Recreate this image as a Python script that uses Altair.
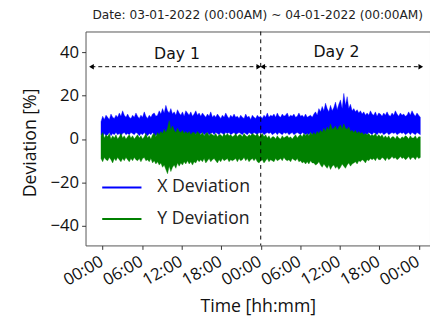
import altair as alt
import pandas as pd

# sample times in hours since 03-01-2022 00:00 (193 samples)
hours = [-0.25 + i * 0.2525 for i in range(193)]

# X deviation band: upper / lower envelope (4 samples per hour)
x_hi = [8, 10.5, 9, 11,  10, 9, 11.5, 10,  9.5, 11, 10, 12,  10.5, 13, 11, 10,
        11.5, 10, 9.5, 11,  10, 12, 10.5, 9.5,  11, 10, 12.5, 10.5,  9.5, 11, 10, 11.5,
        12, 10.5, 11, 13,  11.5, 14, 12, 15.5,  13, 12, 14, 11.5,  12.5, 11, 13.5, 12,
        11, 12.5, 10.5, 13,  12, 11, 12.5, 10.5,  11.5, 13, 11, 12,  10.5, 12, 11, 10,
        11.5, 10.5, 12.5, 10,  11, 10, 11.5, 10.5,  9.5, 11, 10, 12,  10.5, 9.5, 11, 10,
        11.5, 10, 10.5, 9.5,  11, 10, 9.5, 11.5,  10, 10.5, 9, 11,  10, 9.5, 11, 10,
        10.5, 9.5, 11, 10,  12, 10, 11, 10.5,  11.5, 10, 12, 10.5,  10, 11.5, 10.5, 11,
        12, 10, 11, 10.5,  11.5, 10, 10.5, 12,  10.5, 11, 10, 11.5,  10, 10.5, 11, 10,
        11.5, 12.5, 11, 14,  12.5, 15, 13, 16.5,  14, 12.5, 15.5, 13,  14.5, 17, 13.5, 16,
        18, 14, 21, 15.5,  19.5, 14, 16, 13,  14, 12.5, 13.5, 12,  13, 11.5, 12.5, 11,
        12, 11, 13, 11.5,  11, 12.5, 10.5, 12,  11.5, 10.5, 12, 11,  12.5, 11, 10.5, 12,
        11, 13, 11.5, 10.5,  12, 11, 11.5, 10.5,  11, 12.5, 11, 13,  11.5, 10.5, 12, 11,
        10]
x_lo = [2, 1, 2.5, 1.5,  2, 3, 1.5, 2.5,  2, 3, 2, 2.5,  1.5, 2.5, 3, 2,
        2.5, 2, 3, 2.5,  2, 3, 2.5, 1.5,  2.5, 2, 3, 2,  1.5, 2.5, 2, 3,
        2, 1.5, 2.5, 1,  1.5, 0.5, 1, 0,  0.5, 1, 0, 1.5,  1, 2, 1.5, 1,
        2, 1.5, 2.5, 1.5,  2, 2.5, 1.5, 2,  2.5, 2, 3, 2,  2.5, 3, 2, 2.5,
        3, 2, 2.5, 3,  2, 3, 2.5, 2,  3, 2.5, 2, 3,  2.5, 3, 2, 2.5,
        3, 2, 2.5, 3,  2.5, 2, 3, 2.5,  2, 3, 2.5, 2,  3, 2.5, 2, 3,
        2.5, 3, 2, 2.5,  3, 2.5, 3, 2,  2.5, 3, 2, 3,  2.5, 2, 3, 2.5,
        3, 2, 2.5, 3,  2, 2.5, 3, 2.5,  2, 3, 2.5, 2,  2.5, 2, 3, 2,
        2, 1.5, 2.5, 1.5,  1, 2, 1.5, 1,  1.5, 0.5, 1, 1.5,  0.5, 1, 0, 1,
        0.5, 0, 1, 0.5,  1, 0.5, 1.5, 1,  1.5, 2, 1, 2,  2, 2.5, 1.5, 2.5,
        2, 3, 2.5, 2,  3, 2.5, 2, 3,  2.5, 3, 2, 2.5,  3, 2, 2.5, 3,
        2.5, 3, 2, 2.5,  3, 2.5, 3, 2,  2.5, 3, 2, 3,  2.5, 2, 3, 2.5,
        2]
# Y deviation band: upper / lower envelope
y_hi = [1.5, 3, 0.5, 2,  1, 2.5, 0, 1.5,  0.5, 2, 0, 1,  2.5, 0.5, 1.5, 0,
        1, 2, 0.5, 1.5,  0, 1, 2, 0.5,  1.5, 0, 1, 2.5,  0.5, 1.5, 0, 2,
        2.5, 1, 3, 2,  3.5, 2.5, 4.5, 3,  5, 8.5, 4, 6,  4, 3, 5, 3.5,
        3, 4, 2.5, 3.5,  2.5, 3.5, 2, 3,  3, 2, 3.5, 2.5,  2, 3, 1.5, 2.5,
        3, 1.5, 2.5, 2,  1.5, 2.5, 1, 2,  2, 1, 2.5, 1.5,  2.5, 1.5, 2, 1,
        1.5, 2.5, 1, 2,  2, 1, 2.5, 1.5,  1, 2, 1.5, 2.5,  2, 1.5, 2.5, 1,
        1.5, 2.5, 1, 2,  0.5, 1.5, 0, 1,  1, 0, 1.5, 0.5,  0, 1.5, 0.5, 1,
        1.5, 0.5, 1, 0,  1, 2, 0.5, 1.5,  2, 1, 2.5, 1.5,  2.5, 1.5, 3, 2,
        3, 2, 3.5, 2.5,  4, 3, 5, 3.5,  5.5, 4, 7, 4.5,  5, 6, 4, 5.5,
        6.5, 4.5, 7, 5,  4.5, 5.5, 3.5, 4,  3, 4, 2.5, 3.5,  2.5, 3, 2, 2.5,
        2, 2.5, 1.5, 2,  1.5, 2.5, 1, 2,  1, 2, 0.5, 1.5,  0.5, 1.5, 0, 1,
        1, 0, 1.5, 0.5,  0, 1, 0.5, 1.5,  1, 0, 1.5, 0.5,  0.5, 1.5, 0, 1,
        1]
y_lo = [-9, -10.5, -8.5, -9.5,  -10, -8.5, -9.5, -11,  -9, -10, -8.5, -9.5,  -10.5, -9, -10, -8.5,
        -9.5, -10.5, -9, -10,  -8.5, -9.5, -10, -9,  -10.5, -9, -8.5, -10,  -9.5, -10.5, -9, -11,
        -10, -11.5, -10.5, -12,  -11, -13, -12, -14,  -16, -12.5, -15, -13,  -12, -13.5, -11, -12.5,
        -11, -12, -10.5, -11.5,  -10, -11.5, -10.5, -12,  -10.5, -11, -9.5, -10.5,  -9.5, -10.5, -9, -11,
        -10, -9, -10.5, -9.5,  -9, -10, -11, -9.5,  -10.5, -9, -10, -9.5,  -9, -10.5, -9.5, -10,
        -9.5, -9, -10.5, -9,  -10, -9.5, -8.5, -10,  -9, -10.5, -9.5, -9,  -10, -9, -10.5, -11,
        -10, -9.5, -11, -10,  -9, -10.5, -9.5, -10,  -10.5, -9, -10, -9.5,  -9, -10, -8.5, -9.5,
        -10, -9.5, -10.5, -9,  -9.5, -10, -9, -10.5,  -10, -11, -10.5, -11.5,  -10.5, -11.5, -10, -11,
        -11, -12, -11.5, -10.5,  -12, -13, -11.5, -12.5,  -13.5, -12, -14, -12.5,  -12, -13.5, -12.5, -14,
        -13, -11.5, -12.5, -13.5,  -12, -11, -12.5, -11.5,  -11, -10.5, -11.5, -10,  -10.5, -9.5, -10, -11,
        -9.5, -10, -9, -9.5,  -9, -10, -8.5, -9.5,  -9.5, -8.5, -9, -10,  -8.5, -9.5, -9, -8,
        -9, -8.5, -9.5, -9,  -8, -9, -8.5, -9.5,  -9, -8, -9.5, -8.5,  -8.5, -9.5, -8, -9,
        -8.5]

series_names = ["X Deviation", "Y Deviation"]
series_colors = ["#0000ff", "#008000"]

tick_hours = [0, 6, 12, 18, 24, 30, 36, 42, 48]
y_ticks = [-40, -20, 0, 20, 40]

day_labels = ["Day 1", "Day 2"]
day_label_x = [11.3, 35.5]
day_label_y = [39.3, 40.2]
arrow_start = [-1.7, 24.3]
arrow_end = [23.7, 48.3]
arrow_y = [33.3, 33.3]
day_boundary = [24]

title_text = "Date: 03-01-2022 (00:00AM) ~ 04-01-2022 (00:00AM)"

rows = []
for name, hi, lo in [(series_names[0], x_hi, x_lo), (series_names[1], y_hi, y_lo)]:
    for t, h, l in zip(hours, hi, lo):
        rows.append({"series": name, "t": t, "hi": h, "lo": l})
df = pd.DataFrame(rows)

arrows = pd.DataFrame({"x1": arrow_start, "x2": arrow_end, "y": arrow_y})
heads = pd.DataFrame({
    "x": arrow_start + arrow_end,
    "y": arrow_y + arrow_y,
    "shape": ["triangle-left", "triangle-left", "triangle-right", "triangle-right"],
})
labels = pd.DataFrame({"x": day_label_x, "y": day_label_y, "text": day_labels})
vline = pd.DataFrame({"x": day_boundary})

FONT = "Open Sans"
xscale = alt.Scale(domain=[-2.6, 49.7], nice=False, zero=False)
yscale = alt.Scale(domain=[-49, 49.5], nice=False, zero=False)
cscale = alt.Scale(domain=series_names, range=series_colors)

xaxis = alt.Axis(
    values=tick_hours,
    labelExpr="(datum.value % 24 < 10 ? '0' : '') + (datum.value % 24) + ':00'",
    title="Time [hh:mm]", grid=False, domain=False, labelOverlap=False,
    tickSize=4, tickColor="#333", labelAngle=-30, labelAlign="right",
    labelBaseline="top", labelPadding=4, labelOffset=-5,
    labelFont=FONT, labelFontSize=17, labelColor="#111",
    titleFont=FONT, titleFontSize=18, titleFontWeight="normal", titleColor="#111",
    titleY=67, titleBaseline="alphabetic",
)
yaxis = alt.Axis(
    values=y_ticks, title="Deviation [%]", grid=False, domain=False,
    tickSize=4, tickColor="#333", labelPadding=3,
    labelFont=FONT, labelFontSize=17, labelColor="#111",
    titleFont=FONT, titleFontSize=18, titleFontWeight="normal", titleColor="#111",
    titleX=-56, titleY=113, titleAngle=270, titleBaseline="middle", titleAlign="center",
)

legend = alt.Legend(
    title=None, orient="none", legendX=16, legendY=138,
    symbolType="stroke", symbolSize=1600, symbolStrokeWidth=2,
    labelFont=FONT, labelFontSize=18, labelColor="#222", labelOffset=15,
    rowPadding=2, padding=0,
)

bands = alt.Chart(df).mark_area(strokeWidth=0.4).encode(
    x=alt.X("t:Q", scale=xscale, axis=xaxis),
    y=alt.Y("hi:Q", scale=yscale, axis=yaxis),
    y2="lo:Q",
    fill=alt.Fill("series:N", scale=cscale, legend=legend),
    stroke=alt.Stroke("series:N", scale=cscale, legend=legend),
)

vrule = alt.Chart(vline).mark_rule(color="black", strokeDash=[4, 4], strokeWidth=1).encode(
    x="x:Q"
)

arrow_lines = alt.Chart(arrows).mark_rule(color="black", strokeDash=[4, 3], strokeWidth=1).encode(
    x="x1:Q", x2="x2:Q", y="y:Q"
)
arrow_heads = alt.Chart(heads).mark_point(filled=True, color="black", size=30, opacity=1).encode(
    x="x:Q", y="y:Q", shape=alt.Shape("shape:N", scale=None, legend=None)
)
day_text = alt.Chart(labels).mark_text(font="DejaVu Sans", fontSize=16, color="#111", baseline="middle").encode(
    x="x:Q", y="y:Q", text="text:N"
)

chart = alt.layer(bands, vrule, arrow_lines, arrow_heads, day_text).properties(
    width=351, height=218,
    padding={"left": 79, "top": 21, "right": 0, "bottom": 72},
    autosize=alt.AutoSizeParams(type="none"),
    title=alt.TitleParams(title_text, font="DejaVu Sans", fontSize=12.4, fontWeight="normal",
                          color="#222", anchor="middle", frame="group", baseline="alphabetic", offset=0),
).configure_view(stroke="#555", strokeWidth=1)

chart.save("out.html", embed_options={"renderer": "svg", "actions": False})
